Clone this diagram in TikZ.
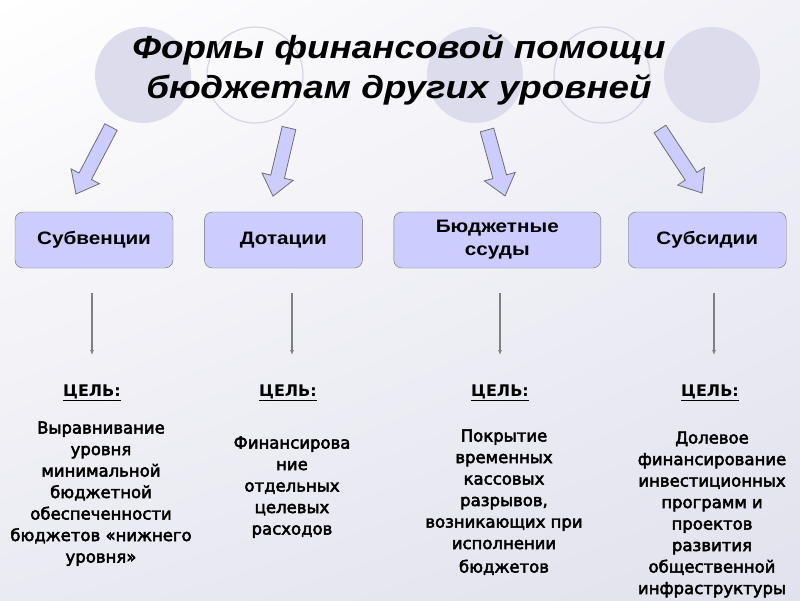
\documentclass[tikz,border=0pt]{standalone}
\usepackage{fontspec}
\setmainfont{Liberation Sans}[FakeStretch=1.15]
\newfontfamily\bodyfont{DejaVu Sans}[FakeBold=3]
\newfontfamily\goalfont{DejaVu Sans}
\usepackage{tikz}
\usetikzlibrary{arrows.meta,positioning,shadings}
\definecolor{boxfill}{HTML}{CCCCFF}
\definecolor{boxline}{HTML}{6E6E6E}
\definecolor{ringfill}{HTML}{DCDCEC}
\definecolor{ringline}{HTML}{D4D4E8}
\definecolor{bgright}{HTML}{F1F1F7}
\definecolor{bgbottom}{HTML}{EAEAF2}
\definecolor{bgcorner}{HTML}{E2E2EE}

\begin{document}
\begin{tikzpicture}[x=1pt, y=1pt,
    form/.style={draw=boxline, rounded corners=8pt, fill=boxfill, minimum height=56pt, minimum width=158pt, align=center, inner sep=0pt, font=\bfseries\fontsize{18}{23}\selectfont},
    goal/.style={inner sep=0pt, font=\goalfont\bfseries\fontsize{16}{19}\selectfont},
    goaltext/.style={align=center, inner sep=0pt, font=\bodyfont\fontsize{16.5}{21.5}\selectfont},
    thinarrow/.style={-{Latex[length=5pt,width=4pt]}, draw=gray, line width=1.2pt},
    ring/.style={fill=ringfill},
    hollow/.style={draw=ringline, line width=1.2pt},
    fatfill/.style={draw=boxline, fill=boxfill, line width=0.8pt, line join=miter},
    pics/fatarrow/.style={code={
        \draw[fatfill] (0,-7) -- ({#1-20},-7) -- ({#1-20},-16) -- (#1,0)
            -- ({#1-20},16) -- ({#1-20},7) -- (0,7) -- cycle;}}
]
    % background
    \shade[upper left=white, upper right=bgright, lower left=bgbottom, lower right=bgcorner]
        (0,0) rectangle (800,-600);

    % circles behind the title
    \fill[ring] (143,-75) circle (48);
    \draw[hollow] (255,-75) circle (48);
    \fill[ring] (475,-75) circle (48);
    \draw[hollow] (602,-75) circle (48);
    \fill[ring] (712,-75) circle (48);

    \node[align=center, font=\bfseries\itshape\fontsize{32}{40}\selectfont] (title) at (399,-69.5)
        {Формы финансовой помощи\\бюджетам других уровней};

    \pic[rotate=242.4] at (111,-127) {fatarrow=75.6};
    \pic[rotate=256.8] at (289,-128) {fatarrow=70};
    \pic[rotate=285.3] at (487,-130) {fatarrow=68.4};
    \pic[rotate=303.3] at (660,-129) {fatarrow=76.6};

    \node[form] (subv) at (94,-240) {Субвенции};
    \node[form, right=31pt of subv] (dot) {Дотации};
    \node[form, minimum width=207pt, right=31pt of dot] (ssud) {Бюджетные\\ссуды};
    \node[form, right=27pt of ssud] (subs) {Субсидии};

    \coordinate (top1) at (92,-293);  \coordinate (end1) at (92,-355);
    \coordinate (top2) at (292,-293); \coordinate (end2) at (292,-355);
    \coordinate (top3) at (500,-293); \coordinate (end3) at (500,-355);
    \coordinate (top4) at (714,-293); \coordinate (end4) at (714,-355);
    \foreach \i in {1,...,4}
        \draw[thinarrow] (top\i) -- (end\i);

    \node[goal] (cel1) at (92,-393) {\underline{ЦЕЛЬ:}};
    \node[goal] (cel2) at (288,-393) {\underline{ЦЕЛЬ:}};
    \node[goal] (cel3) at (500,-393) {\underline{ЦЕЛЬ:}};
    \node[goal] (cel4) at (710,-393) {\underline{ЦЕЛЬ:}};

    \node[goaltext, below=20pt of cel1, xshift=9pt] (txt1)
        {Выравнивание\\уровня\\минимальной\\бюджетной\\обеспеченности\\бюджетов «нижнего\\уровня»};
    \node[goaltext, below=35pt of cel2, xshift=4pt] (txt2)
        {Финансирова\\ние\\отдельных\\целевых\\расходов};
    \node[goaltext, below=28pt of cel3, xshift=4pt] (txt3)
        {Покрытие\\временных\\кассовых\\разрывов,\\возникающих при\\исполнении\\[2pt]бюджетов};
    \node[goaltext, below=30pt of cel4, xshift=2pt] (txt4)
        {Долевое\\финансирование\\инвестиционных\\программ и\\проектов\\развития\\общественной\\инфраструктуры};
\end{tikzpicture}
\end{document}
